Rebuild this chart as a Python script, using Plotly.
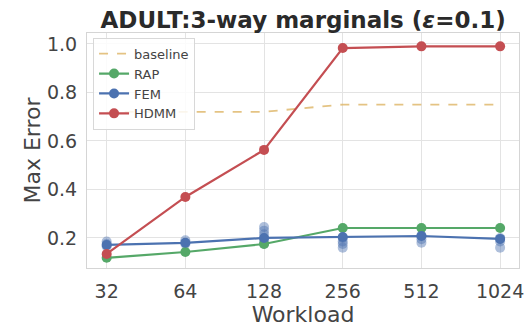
import plotly.graph_objects as go

workloads = ["32", "64", "128", "256", "512", "1024"]
baseline = [0.72, 0.72, 0.72, 0.75, 0.75, 0.75]
rap = [0.118, 0.142, 0.175, 0.241, 0.241, 0.241]
fem = [0.171, 0.18, 0.2, 0.204, 0.208, 0.196]
hdmm = [0.134, 0.369, 0.563, 0.983, 0.99, 0.99]

# individual FEM runs (translucent dots)
fem_runs_x = ["32", "32", "32", "64", "64", "128", "128", "128", "128", "128",
              "256", "256", "256", "256", "512", "512", "512", "1024", "1024", "1024"]
fem_runs_y = [0.185, 0.175, 0.165, 0.19, 0.175, 0.245, 0.23, 0.215, 0.19, 0.175,
              0.2, 0.185, 0.175, 0.16, 0.21, 0.195, 0.18, 0.2, 0.185, 0.16]

fig = go.Figure()
fig.add_trace(go.Scatter(x=fem_runs_x, y=fem_runs_y, mode="markers",
                         marker=dict(color="rgba(76,114,176,0.45)", size=10),
                         showlegend=False, hoverinfo="skip"))
fig.add_trace(go.Scatter(x=workloads, y=baseline, name="baseline", mode="lines",
                         line=dict(color="rgba(221,180,100,0.8)", width=1.8, dash="dash")))
fig.add_trace(go.Scatter(x=workloads, y=rap, name="RAP", mode="lines+markers",
                         line=dict(color="#55A868", width=2.2), marker=dict(size=10)))
fig.add_trace(go.Scatter(x=workloads, y=fem, name="FEM", mode="lines+markers",
                         line=dict(color="#4C72B0", width=2.2), marker=dict(size=10)))
fig.add_trace(go.Scatter(x=workloads, y=hdmm, name="HDMM", mode="lines+markers",
                         line=dict(color="#C44E52", width=2.2), marker=dict(size=10)))

fig.update_layout(
    width=528, height=330,
    margin=dict(l=87, r=9, t=33, b=62, autoexpand=False),
    paper_bgcolor="white", plot_bgcolor="white",
    font=dict(family="DejaVu Sans", color="#444444"),
    title=dict(text="<b>ADULT:3-way marginals (<i>ε</i>=0.1)</b>", x=0.574, xanchor="center",
               y=0.94, yanchor="middle", font=dict(size=23, color="#2a2a2a")),
    legend=dict(x=0.014, y=0.98, xanchor="left", yanchor="top",
                bgcolor="rgba(255,255,255,0.85)", bordercolor="#d8d8d8", borderwidth=1,
                font=dict(size=13, color="#444444"), itemwidth=30, tracegroupgap=0),
    xaxis=dict(type="category", range=[-0.25, 5.24], showgrid=True, gridcolor="#e3e3e3",
               showline=True, linecolor="#d5d5d5", mirror=True, ticks="", automargin=False,
               tickfont=dict(size=19, color="#444444"), ticklabelstandoff=6,
               title=dict(text="Workload", font=dict(size=22, color="#444444"), standoff=4)),
    yaxis=dict(range=[0.076, 1.045], tickvals=[0.2, 0.4, 0.6, 0.8, 1.0],
               ticktext=["0.2", "0.4", "0.6", "0.8", "1.0"],
               showgrid=True, gridcolor="#e3e3e3", zeroline=False, automargin=False,
               showline=True, linecolor="#d5d5d5", mirror=True, ticks="",
               tickfont=dict(size=19, color="#444444"), ticklabelstandoff=5,
               title=dict(text="Max Error", font=dict(size=22, color="#444444"), standoff=0)),
)

# remove the page's default body margin so the 528x330 figure fills the window exactly
fig.write_html("out.html", config={"displayModeBar": False},
               post_script="document.body.style.margin='0';")
